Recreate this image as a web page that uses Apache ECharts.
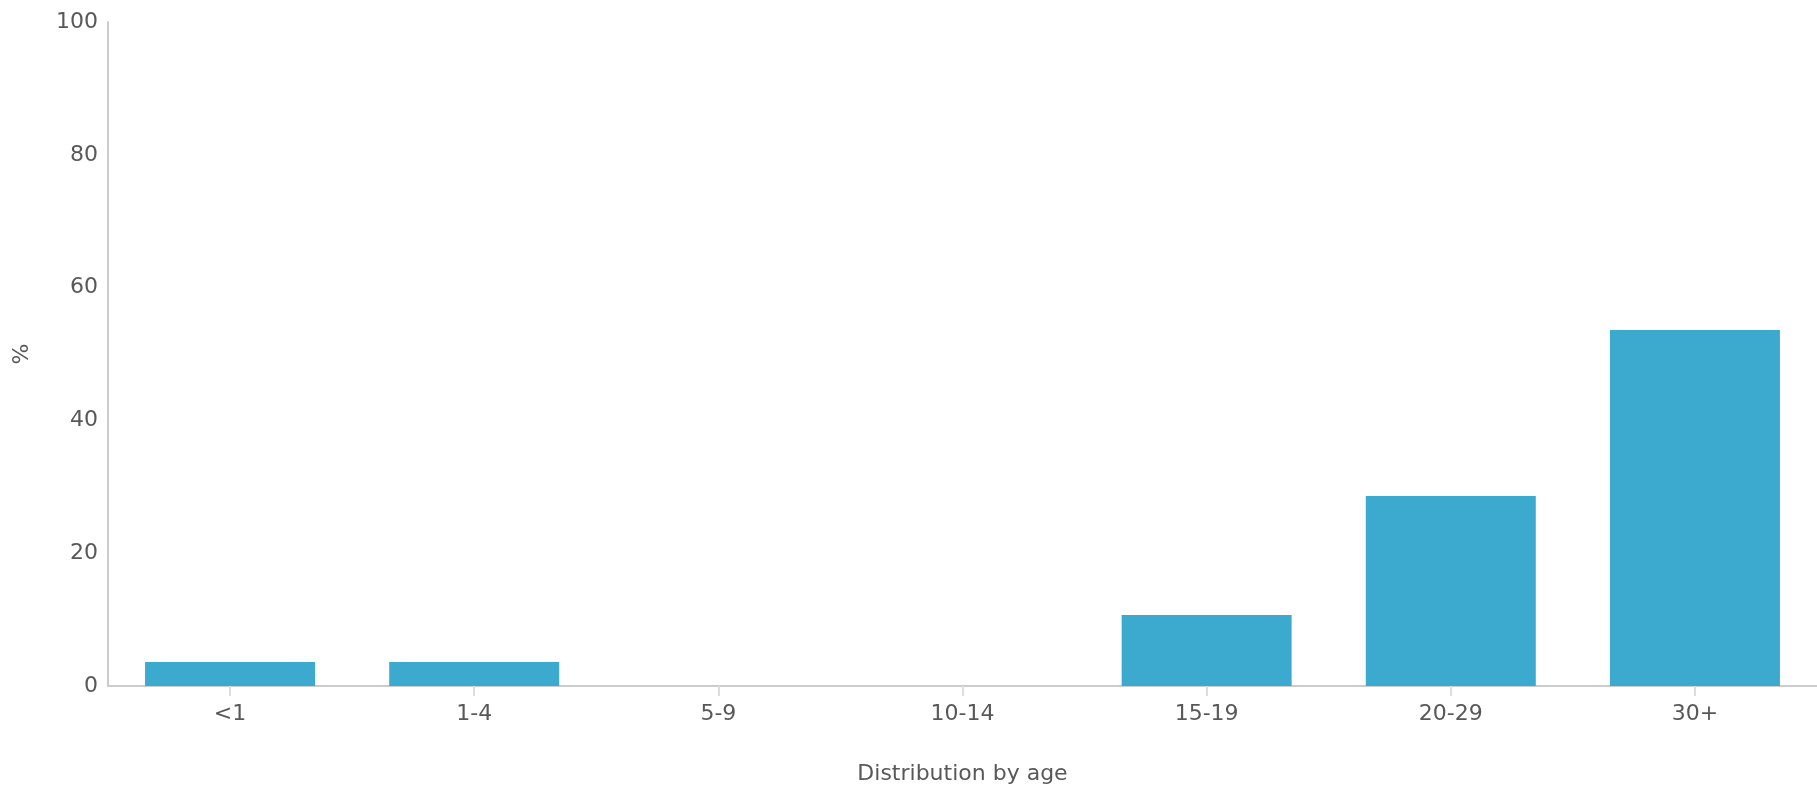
<!DOCTYPE html>
<html>
<head>
<meta charset="utf-8">
<script src="https://cdn.jsdelivr.net/npm/echarts@6/dist/echarts.min.js"></script>
<style>
html,body{margin:0;padding:0;background:#fff;}
#chart{width:1817px;height:790px;}
</style>
</head>
<body>
<div id="chart"></div>
<script>
const categories = ['<1', '1-4', '5-9', '10-14', '15-19', '20-29', '30+'];
const values = [3.6, 3.6, 0, 0, 10.7, 28.6, 53.6];
const yTicks = { min: 0, max: 100, interval: 20 };
const xName = 'Distribution by age';
const yName = '%';

const chart = echarts.init(document.getElementById('chart'), null, { renderer: 'canvas' });
const font = 'DejaVu Sans';
chart.setOption({
  animation: false,
  backgroundColor: '#ffffff',
  grid: { left: 108, top: 22, width: 1720, height: 666, containLabel: false },
  xAxis: {
    type: 'category',
    data: categories,
    name: xName,
    nameLocation: 'middle',
    nameGap: 77,
    nameTextStyle: { fontFamily: font, fontSize: 22, color: '#585858' },
    axisLine: { show: true, lineStyle: { color: '#cccccc', width: 2 } },
    axisTick: { show: true, alignWithLabel: true, length: 10, lineStyle: { color: '#dddddd', width: 2 } },
    axisLabel: { fontFamily: font, fontSize: 22, color: '#585858', margin: 17 },
    splitLine: { show: false }
  },
  yAxis: {
    type: 'value',
    min: yTicks.min,
    max: yTicks.max,
    interval: yTicks.interval,
    name: yName,
    nameLocation: 'middle',
    nameGap: 75,
    nameRotate: 90,
    nameTextStyle: { fontFamily: font, fontSize: 22, color: '#585858' },
    axisLine: { show: true, lineStyle: { color: '#cccccc', width: 2 } },
    axisTick: { show: false },
    axisLabel: { fontFamily: font, fontSize: 22, color: '#585858', margin: 10 },
    splitLine: { show: false }
  },
  series: [{
    type: 'bar',
    data: values,
    barWidth: 170,
    itemStyle: { color: '#3ca9cf', borderWidth: 0 }
  }]
});
</script>
</body>
</html>
